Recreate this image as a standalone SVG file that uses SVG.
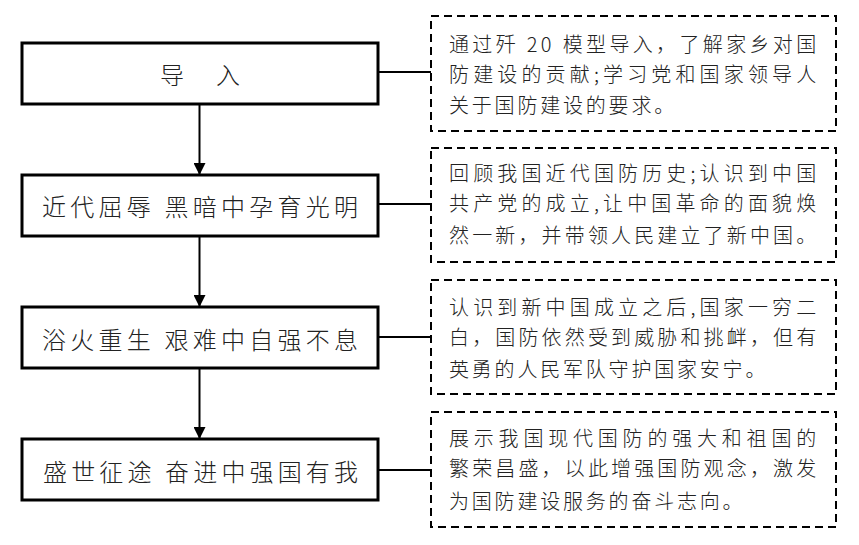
<svg xmlns="http://www.w3.org/2000/svg" width="859" height="545" viewBox="0 0 859 545">
<style>
.main{fill:#fff;stroke:#000;stroke-width:3}
.note{fill:#fff;stroke:#000;stroke-width:2;stroke-dasharray:8 5}
.lt{font-family:"Noto Sans CJK SC","Liberation Sans",sans-serif;font-size:24px;font-weight:300;fill:#222;text-anchor:start}
.rt{font-family:"Noto Sans CJK SC","Liberation Sans",sans-serif;font-size:20px;font-weight:300;fill:#222;letter-spacing:2.8px}
.conn{stroke:#000;stroke-width:2;fill:none}
</style>
<defs>
<marker id="ah" markerUnits="userSpaceOnUse" markerWidth="12" markerHeight="12" viewBox="0 0 12 12" refX="12" refY="6" orient="auto">
<path d="M0,0 L12,6 L0,12 Z" fill="#000"/>
</marker>
</defs>
<rect width="859" height="545" fill="#fff"/>
<g id="connectors">
<line class="conn" x1="199.5" y1="104" x2="199.5" y2="175" marker-end="url(#ah)"/>
<line class="conn" x1="199.5" y1="236" x2="199.5" y2="307" marker-end="url(#ah)"/>
<line class="conn" x1="199.5" y1="368" x2="199.5" y2="439" marker-end="url(#ah)"/>
<line class="conn" x1="378" y1="72" x2="431" y2="72"/>
<line class="conn" x1="378" y1="204" x2="431" y2="204"/>
<line class="conn" x1="378" y1="337" x2="431" y2="337"/>
<line class="conn" x1="378" y1="470" x2="431" y2="470"/>
</g>
<g id="node1">
<rect class="main" x="22" y="43" width="356" height="61"/>
<text class="lt" x="160" y="84" textLength="80" lengthAdjust="spacing">导 入</text>
</g>
<g id="node2">
<rect class="main" x="22" y="175" width="356" height="61"/>
<text class="lt" x="42" y="216" textLength="316" lengthAdjust="spacing">近代屈辱 黑暗中孕育光明</text>
</g>
<g id="node3">
<rect class="main" x="22" y="307" width="356" height="61"/>
<text class="lt" x="42" y="349" textLength="316" lengthAdjust="spacing">浴火重生 艰难中自强不息</text>
</g>
<g id="node4">
<rect class="main" x="22" y="439" width="356" height="61"/>
<text class="lt" x="43" y="481" textLength="315" lengthAdjust="spacing">盛世征途 奋进中强国有我</text>
</g>
<g id="note1">
<rect class="note" x="431" y="16" width="405" height="115"/>
<text class="rt" x="449" y="52" textLength="370" lengthAdjust="spacing">通过歼 20 模型导入，了解家乡对国</text>
<text class="rt" x="449" y="82" textLength="370" lengthAdjust="spacing">防建设的贡献;学习党和国家领导人</text>
<text class="rt" x="449" y="113">关于国防建设的要求。</text>
</g>
<g id="note2">
<rect class="note" x="431" y="148" width="405" height="114"/>
<text class="rt" x="449" y="181" textLength="370" lengthAdjust="spacing">回顾我国近代国防历史;认识到中国</text>
<text class="rt" x="449" y="211" textLength="370" lengthAdjust="spacing">共产党的成立,让中国革命的面貌焕</text>
<text class="rt" x="449" y="243" textLength="370" lengthAdjust="spacing">然一新，并带领人民建立了新中国。</text>
</g>
<g id="note3">
<rect class="note" x="431" y="280" width="405" height="114"/>
<text class="rt" x="449" y="315" textLength="370" lengthAdjust="spacing">认识到新中国成立之后,国家一穷二</text>
<text class="rt" x="449" y="345" textLength="370" lengthAdjust="spacing">白，国防依然受到威胁和挑衅，但有</text>
<text class="rt" x="449" y="377">英勇的人民军队守护国家安宁。</text>
</g>
<g id="note4">
<rect class="note" x="431" y="412" width="405" height="115"/>
<text class="rt" x="449" y="446" textLength="370" lengthAdjust="spacing">展示我国现代国防的强大和祖国的</text>
<text class="rt" x="449" y="476" textLength="370" lengthAdjust="spacing">繁荣昌盛，以此增强国防观念，激发</text>
<text class="rt" x="449" y="509">为国防建设服务的奋斗志向。</text>
</g>
</svg>
